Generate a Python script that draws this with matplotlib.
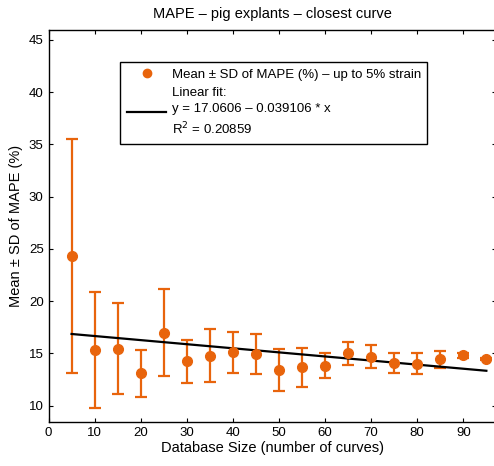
import numpy as np
import matplotlib
matplotlib.use("Agg")
import matplotlib.pyplot as plt
from matplotlib.lines import Line2D

plt.rcParams['font.family'] = ['Liberation Sans', 'DejaVu Sans']

# database size (number of curves)
sizes = [5, 10, 15, 20, 25, 30, 35, 40, 45, 50, 55, 60, 65, 70, 75, 80, 85, 90, 95]
# mean MAPE (%)
mape_mean = [24.36, 15.35, 15.45, 13.12, 17.0, 14.24, 14.78, 15.1, 14.94, 13.44,
             13.69, 13.82, 15.0, 14.71, 14.08, 14.01, 14.43, 14.81, 14.49]
# SD of MAPE (%)
mape_sd = [11.2, 5.57, 4.37, 2.25, 4.16, 2.04, 2.53, 1.95, 1.91, 2.03,
           1.85, 1.18, 1.1, 1.08, 0.96, 1.02, 0.78, 0.2, 0.1]
# linear fit coefficients
fit_intercept = 17.0606
fit_slope = -0.039106
fit_r2 = 0.20859

orange = '#E8640C'

fig = plt.figure(figsize=(4.94, 4.66), dpi=100)
ax = fig.add_axes([0.0982, 0.095, 0.905, 0.8396])

ax.errorbar(sizes, mape_mean, yerr=mape_sd, fmt='o', color=orange,
            markersize=7, elinewidth=1.6, capsize=4, capthick=1.6)
xs = np.array([sizes[0], sizes[-1]], dtype=float)
ax.plot(xs, fit_intercept + fit_slope * xs, color='black', lw=1.6)

ax.set_xlim(0, 97.0)
ax.set_ylim(8.47, 45.9)
ax.set_xticks(range(0, 91, 10))
ax.set_yticks(range(10, 46, 5))
ax.tick_params(direction='in', top=True, right=True, labelsize=9.5, length=3)
for s in ax.spines.values():
    s.set_linewidth(1.0)

ax.set_xlabel('Database Size (number of curves)', fontsize=10.5, labelpad=2)
ax.set_ylabel('Mean \u00b1 SD of MAPE (%)', fontsize=10.5, labelpad=4)
ax.set_title('MAPE \u2013 pig explants \u2013 closest curve', fontsize=10.5, pad=9)

handles = [Line2D([], [], ls='none', marker='o', color=orange, markersize=6),
           Line2D([], [], color='black', lw=1.6)]
labels = ['Mean \u00b1 SD of MAPE (%) \u2013 up to 5% strain',
          'Linear fit:\ny = %g \u2013 %g * x\nR$^2$ = %g' % (fit_intercept, -fit_slope, fit_r2)]
leg = ax.legend(handles, labels, loc='upper center', bbox_to_anchor=(0.504, 0.919),
                fontsize=9.5, frameon=True, fancybox=False, edgecolor='black',
                framealpha=1, handlelength=3.0, handletextpad=0.4,
                borderpad=0.5, labelspacing=0.45, borderaxespad=0)
leg.get_frame().set_linewidth(1.0)
for t in leg.get_texts():
    t.set_linespacing(1.45)

fig.savefig('out.png', dpi=100)
